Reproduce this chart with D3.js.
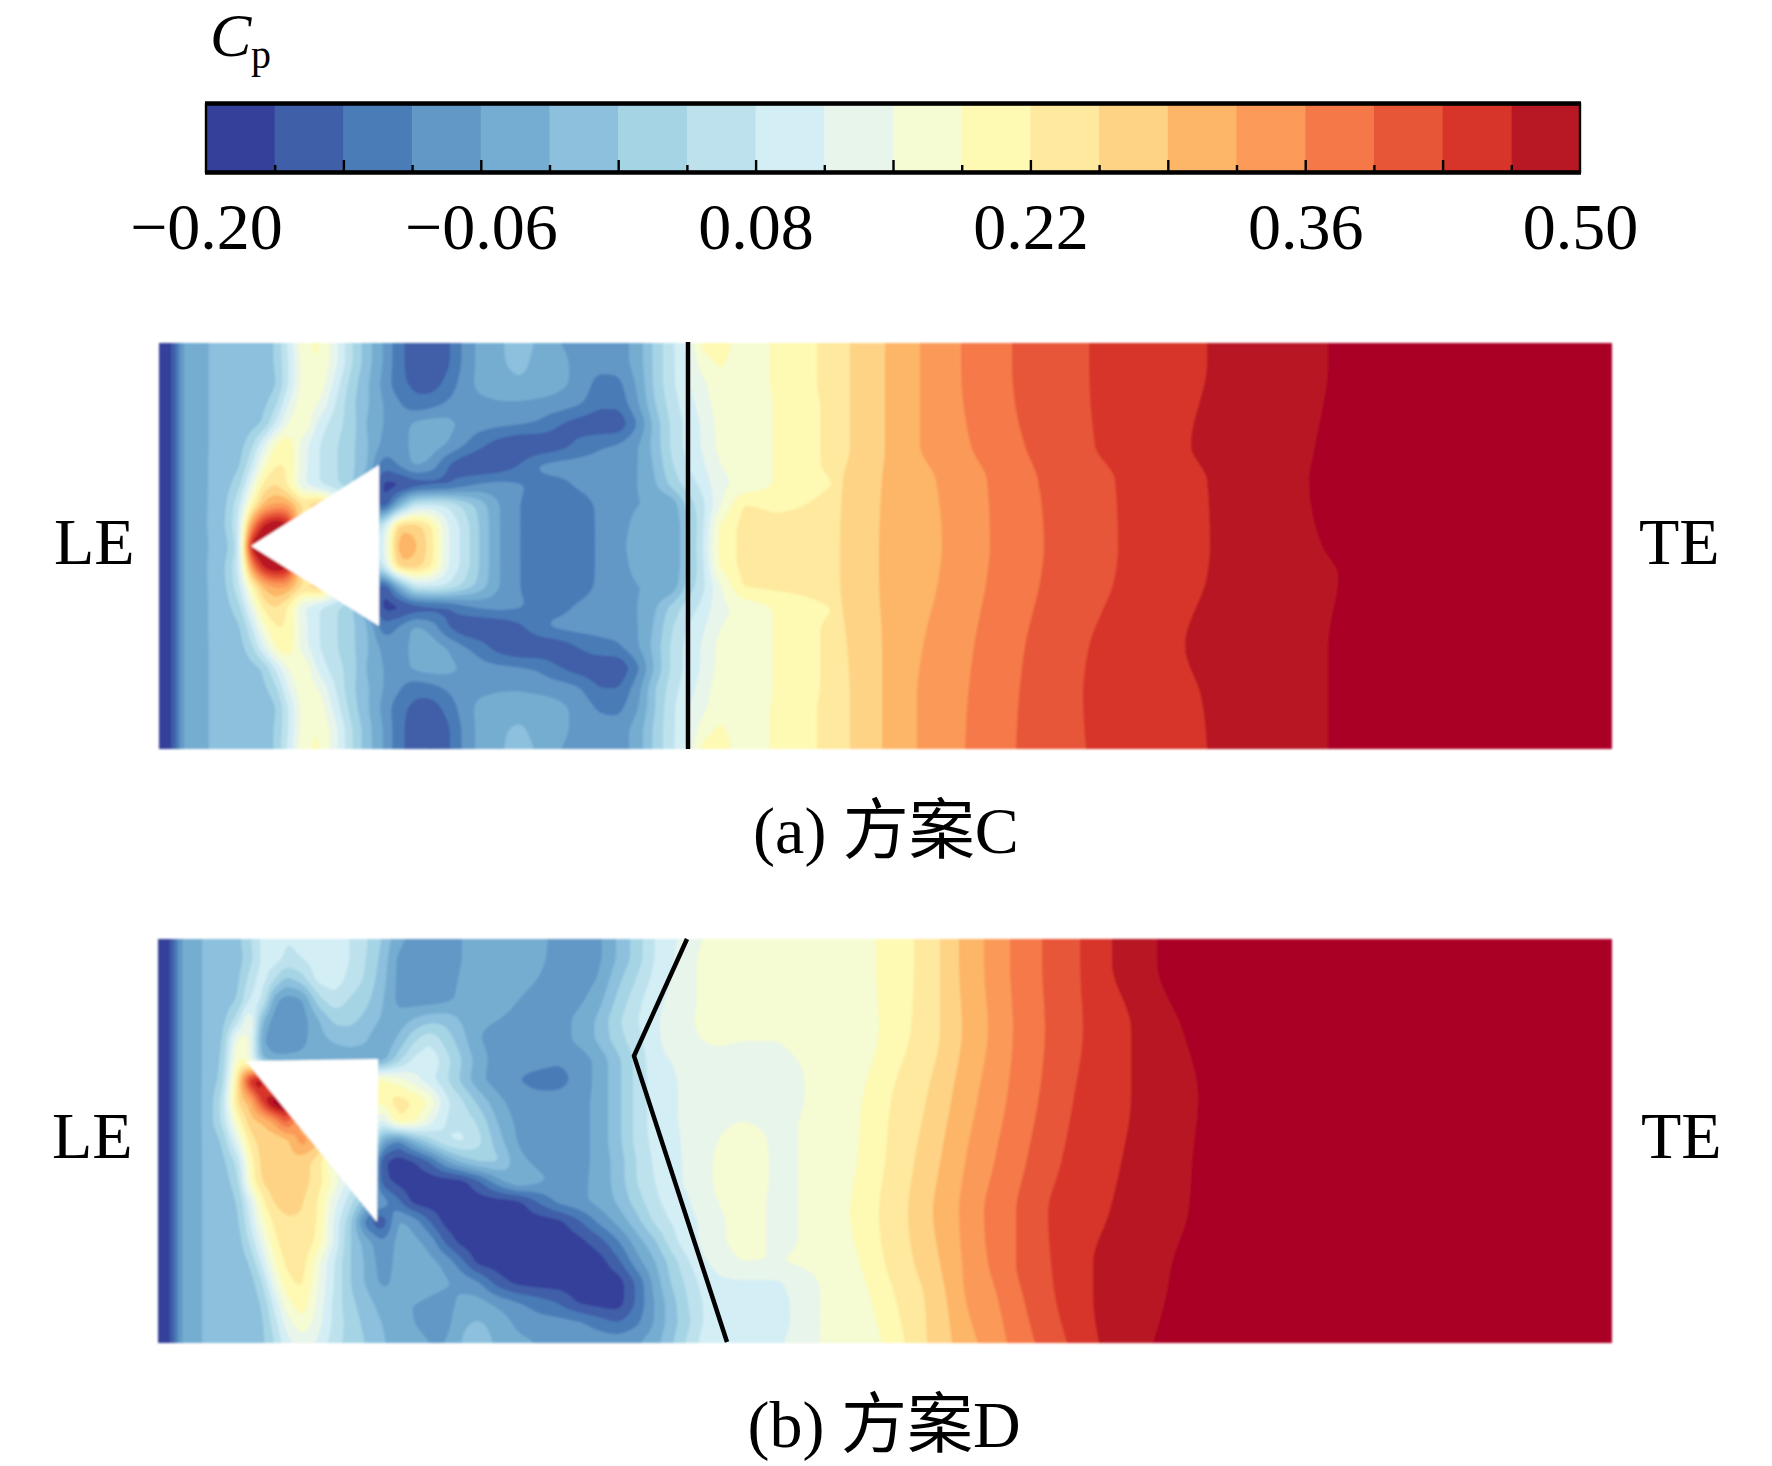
<!DOCTYPE html>
<html lang="en">
<head>
<meta charset="UTF-8">
<script src="https://cdnjs.cloudflare.com/ajax/libs/d3/7.8.5/d3.min.js"></script>
<style>
body { margin: 0; background: #fff; }
text { font-family: "Liberation Serif", "Noto Sans CJK SC", serif; fill: #000; }
</style>
</head>
<body>
<svg id="fig" width="1772" height="1466" viewBox="0 0 1772 1466"></svg>
<script>
// colour bar
const cpLevels = [-16.5,-13,-9.5,-6,-2.5,1,4.5,8,11.5,15,18.5,22,25.5,29,32.5,36,39.5,43,46.5,50]; // Cp x 100
const barEdges = [-0.2,-0.165,-0.13,-0.095,-0.06,-0.025,0.01,0.045,0.08,0.115,0.15,0.185,0.22,0.255,0.29,0.325,0.36,0.395,0.43,0.465,0.5];
const bandColors = ['#35409a','#3f5fa8','#4a7cb7','#6298c6','#74add1','#8dc0dd','#a5d4e5','#bee2ed','#d4eef5','#e8f5ea','#f5fbd2','#fef9b3','#fee99e','#fed385','#fdb568','#fb9a59','#f57948','#e75637','#d73529','#b71823','#aa0426'];
const majorTicks = [-0.13,-0.06,0.01,0.08,0.15,0.22,0.29,0.36,0.43];
const minorTicks = [-0.165,-0.095,-0.025,0.045,0.115,0.185,0.255,0.325,0.395,0.465];
const labelTicks = [-0.2,-0.06,0.08,0.22,0.36,0.5];

// left part of both fields: Cp x 100 at chord / span stations
const chordStations = [0,12,18,24,48,64,80,92,104,116,128,144,160,176,192,208,224,240,256,272,288,304,320,340,360,380,400,420,440,460,480,496,512,528,544,560,584,620,660,760];
const spanA = [0,20,41,61,81,102,122,142,162,183,203,223,243,264,284,304,325,345,365,386,406];
const spanB = [0,20,40,61,81,101,121,141,162,182,202,222,242,263,283,303,323,343,364,384,404];

const cpGridA = [
[-19,-18,-12,-5,-2.6,-1.5,-1.2,-1,-1,1,8,18,19,13,5,-1,-6,-12,-15,-16,-14,-9,-5,-3,-1,-3,-6,-7,-8,-8,-4,2,7,12,20,20,17,19,22.2,25],
[-19,-18,-12,-5,-2.6,-1.5,-1.2,-1,-1,1,7,17,19,13,5,-1,-6,-12,-15,-16,-14,-9,-5,-3,-1.5,-3.5,-5,-7,-8,-8,-4,2,7,11,17,19,17,19,22.2,25],
[-19,-18,-12,-5,-2.6,-1.5,-1.2,-1,-1,0,7,17,18,10,3,-2,-7,-12,-14,-15,-12,-8,-5,-3.5,-3,-3.5,-5,-7,-11,-10.5,-5,2,7,11,14,18,17,19,22.2,25],
[-19,-18,-12,-5,-2.6,-1.5,-1.2,-1,0,3,11,18,15,8,2,-2,-6,-9,-12,-11,-9,-7.5,-7,-6.5,-6.5,-7,-7.5,-9,-12,-12,-6,1,6,10,13,17,16,19,22,25],
[-19,-18,-12,-5,-2.6,-1.5,-1.2,-0.5,1,8,15,19,10,6,3,-3,-6,-8,-5,-4,-4.5,-7,-8,-8.5,-9,-10,-13,-15,-16,-16,-9,-1,5,9,12,16,16,19,22,25],
[-19,-18,-12,-5,-2.6,-1.5,-0.5,3,11,19,22,13,8,5,2,-2,-7,-8,-4.5,-4,-6,-9,-12,-15,-17,-16.5,-15,-12,-10,-9,-6,-1,5,9,12,16,16,19,22,25],
[-19,-18,-12,-5,-2.6,-1,0,7,17,22,22,13,8,5,2,-2,-12,-9,-5,-7,-13,-16,-17,-16,-13,-9,-8,-8,-8,-8,-6,-2,4,8,11,15,16,19,22,25],
[-19,-18,-12,-5,-2.6,-1,3,13,23,26,22,12,8,5,2,-5,-18,-18,-16,-15,-14,-11,-9,-8,-9,-10.5,-10.5,-9,-8,-7,-6,-3,2,6,9,14,16,19,21.5,25],
[-19,-18,-12,-5,-2.6,-0.5,7,20,30,33,33,25,30,20,10,0,-18,-4,8,9,8,4,0,-6,-9.5,-11,-11,-11,-9,-7.5,-6,-6,-6,2,7,14,22.5,21,22.5,25],
[-19,-18,-12,-5,-2.6,0,8,35,48,52,50,20,15,10,5,0,8,28,28,23,12,7,1,-6,-9.5,-11,-11.5,-11.5,-9,-7.5,-4.5,-4,-6,0,7,19,23,23.5,24,25],
[-19,-18,-12,-5,-2.6,-1.5,6,50,55,40,20,15,10,10,10,10,10,32,30,24,12,7,1,-6,-9.5,-11,-12,-11.5,-9,-7,-4,-4,-6,0,8,19.5,23,23.5,24,25],
[-19,-18,-12,-5,-2.6,0,8,35,48,52,50,20,15,10,5,0,8,28,28,23,12,7,1,-6,-9.5,-11,-11.5,-11.5,-9,-7.5,-4.5,-4,-6,0,7,19,23,23.5,24,25],
[-19,-18,-12,-5,-2.6,-0.5,7,20,30,33,33,25,30,20,10,0,-18,-4,8,9,8,4,0,-6,-9.5,-11,-11,-11,-9,-7.5,-6,-6,-6,2,7,14,22.5,23,23.5,25],
[-19,-18,-12,-5,-2.6,-1,3,13,23,26,22,12,8,5,2,-5,-18,-18,-16,-15,-14,-11,-9,-8,-9,-10.5,-10.5,-9,-8,-7,-6,-3,2,6,9,14,16,19,21.5,25],
[-19,-18,-12,-5,-2.6,-1,0,7,17,22,22,13,8,5,2,-2,-12,-9,-5,-7,-13,-16,-17,-16.5,-14,-10,-8.5,-8,-8,-8,-6,-2,4,8,11,15,16,19,22,25],
[-19,-18,-12,-5,-2.6,-1.5,-0.5,3,11,19,22,13,8,5,2,-2,-7,-8,-4.5,-4,-6,-9,-11,-15,-17,-16.5,-15.5,-13,-11,-10,-6,-1,5,9,12,16,16,19,22,25],
[-19,-18,-12,-5,-2.6,-1.5,-1.2,-0.5,1,8,15,19,10,6,3,-3,-6,-8,-5,-4,-4.5,-6.5,-8,-8.5,-9,-10,-13,-15,-16,-16.5,-10,-2,5,9,12,16,16,19,22,25],
[-19,-18,-12,-5,-2.6,-1.5,-1.2,-1,0,3,11,18,15,8,2,-2,-6,-9,-12,-11,-9,-7.5,-7,-6.5,-6.5,-7,-7.5,-9,-13,-13,-7,1,6,10,13,17,16,19,22,25],
[-19,-18,-12,-5,-2.6,-1.5,-1.2,-1,-1,0,7,17,18,10,3,-2,-7,-12,-14,-15,-12,-8,-5,-4,-3.5,-4,-5,-7,-10,-10.5,-6,1,7,11,14,18,17,19,22.2,25],
[-19,-18,-12,-5,-2.6,-1.5,-1.2,-1,-1,1,7,17,19,13,5,-1,-6,-12,-15,-16.5,-14,-9,-5,-3,-2,-3.5,-5,-7,-8,-8,-4,2,7,11,17,19,17,19,22.2,25],
[-19,-18,-12,-5,-2.6,-1.5,-1.2,-1,-1,1,8,18,19,13,5,-1,-6,-12,-15,-17,-14,-9,-5,-3,-1,-3,-6,-7,-8,-8,-4,2,7,12,20,20,17,19,22.2,25]
];

const cpGridB = [
[-19,-18,-11,-5,-2,-1,0,4,9,11,8,9,10,10,8,5,1,-5,-7,-8,-8,-6,-4,-4,-4,-5,-7,-7.5,-7,-2,3,8,11,12,15,17,17,17,17,18],
[-19,-18,-11,-5,-2,-1,-0.5,3,9,10,7,8,10,10.5,8,4.5,0,-7,-7.5,-8,-8,-6,-4,-4,-4,-5,-7.5,-8,-7,-2,3,8,11,13,16,17,17,17,17,18],
[-19,-18,-11,-5,-2,-1,0,6,10,5,0,3,9.5,10,7,4,-1,-7,-8,-8,-7.5,-5.5,-4,-4,-5,-6,-8,-8,-6,0,5,9,11.5,13,16,17,17,17,17,18],
[-19,-18,-11,-5,-2,-1,1,9,9,-5,-8,-7,3,7,4,2,-2,-7,-8,-8,-7,-5,-4,-4.5,-6,-7,-8,-7,-4,2,7,10.5,12,13,16,17,17,17,17,18],
[-19,-18,-11,-5,-2,-0.5,6,17,-2,-8,-9,-8,-3,2,2,0,-3,-5,-2,0,0,-3,-5.5,-6,-7,-7.5,-8,-5,-2,4,8,11,12.5,14,16,17,17,17,17,18],
[-19,-18,-11,-5,-2,0,17,16,-6,-8.5,-8.5,-7,-4,-2,-1,-2,-6,-2,4,7.5,3,-1,-6,-7,-8,-8,-8,-5,-2,3,7,10.5,13,14,15,15.5,15,15,17,18],
[-19,-18,-11,-5,-2,1,20,15,-3,-5,-5,-5,-5,-5,-5,-5,-5,3,9,11,6,1,-4,-8,-8.5,-8.5,-9,-8.5,-5,0,6,10,11.5,12.5,14,14,14,14,16,18],
[-19,-18,-11,-5,-2,2,25,48,52,20,20,20,20,20,20,20,20,17,13,9,5,0,-5,-8,-9.5,-10.5,-11,-8.5,-5,0,6,9.5,11,12,13,13,13,13,16,18],
[-19,-18,-11,-5,-2,5,27,30,44,55,55,30,20,20,20,20,20,24,22,18,9,5,0,-5,-8,-8.5,-8,-7.5,-5,0,6,9.5,11,12,13,13,13,13,16,18],
[-19,-18,-11,-5,-2,5,20,28,29,33,42,30,20,20,20,20,10,22,20,13,7.5,7,4,-3,-7,-8,-7.5,-7.5,-5,0,6,9.5,11,12,13,14,15,14,16,18],
[-19,-18,-11,-5,-2,1,13,24,27,26,27,35,30,20,20,20,-5,-11,-3,3,8,9,6,-1,-6.5,-8,-7.5,-7.5,-5,0,6,9,10.5,12,13,15,17.5,14,16,18],
[-19,-18,-11,-5,-2,-0.5,6,20,27,29,28,27,24,14,10,10,-16,-18.5,-17,-13,-6,-1,2,2,-5,-7,-7.5,-7.5,-5,-1,5,8.5,10,12,13,16,18,14,16,18],
[-19,-18,-11,-5,-2,-1,3,19,26,28,28,27,24,17,10,5,-15,-18,-18.5,-18.5,-18.5,-18,-14,-7,-2,-5,-7,-7,-5,-1,5,8,10,12,13,16,18,14,16,18],
[-19,-18,-11,-5,-2,-1.5,1,10,21,26,27,26,22,13,6,-2,-7,-12,-18,-18.5,-18.5,-18.5,-18.5,-18.5,-18,-13,-8.5,-7,-5,-2,3,7,9.5,11,13,15,17,14,16,18],
[-19,-18,-11,-5,-2,-1.5,0,8,17,23,25,25,22,11,2,-12,-17,-5,-7,-13,-18,-18.5,-18.5,-18.5,-18.5,-18.5,-18,-14,-9,-5,0,5,8,10,12,14,17,14,16,18],
[-19,-18,-11,-5,-2,-1.5,-1,5,13,21,24,25,21,11,1,-4,-9,-5,-5,-7,-14,-18,-18.5,-18.5,-18.5,-18.5,-18.5,-18,-15,-10,-4,0,6,10,12,14,17,14,16,18],
[-19,-18,-11,-5,-2,-1.5,-1,1,9,18,23,24,16,8,1,-3,-8,-5,-4.5,-5,-7,-12,-18,-18.5,-18.5,-18.5,-18.5,-18.5,-18.5,-14,-7,-3,2,7,11,12.5,15,15,16,18],
[-19,-18,-11,-5,-2,-1.5,-1,-1,4,14,21,23,15,8,1,-3,-7,-5,-2,-4,-5.5,-7,-9,-15,-18,-18.5,-18.5,-18.5,-18.5,-18.5,-12,-5,1,5,9,11,11,11,15,18],
[-19,-18,-11,-5,-2,-1.5,-1,-1,1,9,17,21,14,7,2,-1,-4,-6,-6,-7,-7.5,-5,-4.5,-7,-9,-11,-13,-17,-18,-18.5,-12,-6,-1,4,8,10,10,10,15,18],
[-19,-18,-11,-5,-2,-1.5,-1,-1,0,6,13,18,13,7,3,0,-2.5,-5,-6,-7,-7.5,-3,-2,-3.5,-7,-8,-8,-8.5,-11,-13,-10,-6,-1,3,8,10,10,10,15,18],
[-19,-18,-11,-5,-2,-1.5,-1,-1,0,4,10,13,11,6,3,1,-2,-4,-5,-6,-6,-2,-1,-3,-5,-6,-7,-7,-7,-7,-6,-4,0,5,9,11,11,11,15,18]
];

// right part: chord position of each iso-Cp line at a few span stations
const isoSpanA = [0,20,103,137,203,233,303,353,406];
const isoLevelsA = [25.5,29,32.5,36,39.5,43,46.5,50];
const isoChordA = [
[691,691,691,684,681,681,688,691,691],
[726,726,726,723,720,720,723,723,723],
[761,761,761,777,783,780,764,758,758],
[802,802,812,828,831,828,815,809,806],
[853,853,866,879,885,882,866,860,857],
[930,930,936,956,959,956,930,924,927],
[1048,1048,1032,1048,1051,1048,1026,1042,1048],
[1169,1169,1156,1150,1163,1179,1169,1169,1169]
];
const isoSpanB = [0,24,90,157,224,274,324,357,404];
const isoLevelsB = [18.5,22,25.5,29,32.5,36,39.5,43,46.5,50];
const isoChordB = [
[718,718,721,705,699,692,702,712,724],
[756,756,753,734,727,721,727,737,747],
[782,782,782,769,756,750,756,766,769],
[801,801,804,794,782,775,782,788,794],
[826,826,830,820,807,801,804,807,820],
[852,852,855,849,836,826,830,839,849],
[884,884,887,881,868,858,858,865,877],
[922,922,925,916,903,890,893,897,909],
[954,954,973,973,963,951,935,935,941],
[999,999,1024,1040,1034,1030,1014,1008,995]
];

// body and shock line, [chord, span]
const wedgeA = [[92,203],[220,122],[220,283]];
const wedgeB = [[88,122],[220,120],[219,283]];
const shockA = [[529,-1],[529,406]];
const shockB = [[529,0],[476,117],[569,403]];

const svg = d3.select('#fig');
const defs = svg.append('defs');
defs.append('filter').attr('id', 'soft')
    .attr('x', -0.02).attr('y', -0.02).attr('width', 1.04).attr('height', 1.04)
    .append('feGaussianBlur').attr('stdDeviation', 1.1);

// colour bar
const barScale = d3.scaleLinear().domain([-0.2, 0.5]).range([206, 1580]);
const barTop = 104, barBottom = 172;
const bar = svg.append('g');
bar.selectAll('rect').data(d3.pairs(barEdges)).enter().append('rect')
    .attr('x', d => barScale(d[0]))
    .attr('y', barTop)
    .attr('width', d => barScale(d[1]) - barScale(d[0]) + 0.5)
    .attr('height', barBottom - barTop)
    .attr('fill', (d, i) => bandColors[i]);

const minorAxis = d3.axisBottom(barScale).tickValues(minorTicks).tickSize(-7).tickFormat('');
const majorAxis = d3.axisBottom(barScale).tickValues(majorTicks).tickSize(-12).tickFormat('');
[minorAxis, majorAxis].forEach(a => {
    const g = bar.append('g').attr('transform', `translate(0,${barBottom})`).call(a);
    g.select('.domain').remove();
    g.selectAll('line').attr('stroke', '#000').attr('stroke-width', 2.4);
});
bar.append('rect').attr('x', barScale(-0.2)).attr('y', barTop)
    .attr('width', barScale(0.5) - barScale(-0.2)).attr('height', barBottom - barTop)
    .attr('fill', 'none').attr('stroke', '#000').attr('stroke-width', 2.4);
[barTop - 0.5, barBottom + 0.5].forEach(y => {
    bar.append('line').attr('x1', barScale(-0.2) - 1).attr('x2', barScale(0.5) + 1)
        .attr('y1', y).attr('y2', y).attr('stroke', '#000').attr('stroke-width', 4.4);
});
const labelAxis = d3.axisBottom(barScale).tickValues(labelTicks).tickSize(0).tickFormat(d3.format('.2f'));
const labelG = svg.append('g').attr('transform', 'translate(0,249)').call(labelAxis);
labelG.select('.domain').remove();
labelG.selectAll('text').attr('y', 0).attr('dy', 0)
    .attr('font-size', 66).attr('font-family', '"Liberation Serif", serif').attr('fill', '#000');

svg.append('text').attr('x', 210).attr('y', 56).attr('font-size', 62).attr('font-style', 'italic').text('C');
svg.append('text').attr('x', 251).attr('y', 68).attr('font-size', 40).text('p');

function drawPanel(p) {
    const x = d3.scaleLinear().domain([0, p.chord]).range([p.left, p.right]);
    const y = d3.scaleLinear().domain([0, p.span[p.span.length - 1]]).range([p.top, p.bottom]);
    const chordEnd = chordStations[chordStations.length - 1];
    const spanEnd = y.domain()[1];

    // sample the coarse table on a fine regular grid for d3.contours
    const w = 520, h = 280;
    const fine = new Float64Array(w * h);
    const ix = d3.scaleLinear().domain(chordStations).range(d3.range(chordStations.length));
    const iy = d3.scaleLinear().domain(p.span).range(d3.range(p.span.length));
    p.grid.forEach((r, i) => { if (r.length !== chordStations.length) throw new Error(p.id + ' row ' + i + ' has ' + r.length); });
    for (let j = 0; j < h; j++) {
        const fy = iy((j + 0.5) / h * spanEnd);
        const j0 = Math.min(Math.floor(fy), p.span.length - 2);
        const ty = fy - j0;
        for (let i = 0; i < w; i++) {
            const fx = ix((i + 0.5) / w * chordEnd);
            const i0 = Math.min(Math.floor(fx), chordStations.length - 2);
            const tx = fx - i0;
            const a = p.grid[j0][i0] * (1 - tx) + p.grid[j0][i0 + 1] * tx;
            const b = p.grid[j0 + 1][i0] * (1 - tx) + p.grid[j0 + 1][i0 + 1] * tx;
            fine[j * w + i] = a * (1 - ty) + b * ty;
        }
    }
    d3.blur2({data: fine, width: w, height: h}, 2);

    defs.append('clipPath').attr('id', 'clip' + p.id).append('rect')
        .attr('x', p.left).attr('y', p.top)
        .attr('width', p.right - p.left).attr('height', p.bottom - p.top);
    const soft = svg.append('g').attr('filter', 'url(#soft)');
    const field = soft.append('g').attr('clip-path', `url(#clip${p.id})`);

    field.append('rect').attr('x', p.left).attr('y', p.top)
        .attr('width', p.right - p.left).attr('height', p.bottom - p.top)
        .attr('fill', bandColors[0]);

    const contours = d3.contours().size([w, h]).thresholds(cpLevels)(fine);
    const sx = (x(chordEnd) - x(0)) / w, sy = (y(spanEnd) - y(0)) / h;
    field.append('g').attr('transform', `translate(${x(0)},${y(0)}) scale(${sx},${sy})`)
        .selectAll('path').data(contours).enter().append('path')
        .attr('d', d3.geoPath())
        .attr('fill', (d, i) => bandColors[i + 1]);

    // iso lines of the smooth rear part, each area fills to the trailing edge
    const area = d3.area().curve(d3.curveMonotoneY)
        .y((d, i) => y(p.isoSpan[i]))
        .x0(d => x(d))
        .x1(x(p.chord));
    p.isoChord.forEach((row, k) => {
        field.append('path').attr('d', area(row))
            .attr('fill', bandColors[cpLevels.indexOf(p.isoLevels[k]) + 1]);
    });

    // wedge stays inside the soft group so its edge is a little blurred too
    const line = d3.line().x(d => x(d[0])).y(d => y(d[1]));
    soft.append('path').attr('d', line(p.wedge) + 'Z').attr('fill', '#fff');
    svg.append('path').attr('d', line(p.shock)).attr('fill', 'none')
        .attr('stroke', '#000').attr('stroke-width', 4.5);

    svg.append('text').attr('x', p.leX).attr('y', p.labelY).attr('font-size', 66).text('LE');
    svg.append('text').attr('x', p.teX).attr('y', p.labelY).attr('font-size', 66).text('TE');
    svg.append('text').attr('x', p.capX).attr('y', p.capY).attr('text-anchor', 'middle')
        .attr('font-size', 66).text(p.caption);
}

drawPanel({id: 'A', left: 159, right: 1612, top: 343, bottom: 749, chord: 1453,
    span: spanA, grid: cpGridA, isoSpan: isoSpanA, isoLevels: isoLevelsA, isoChord: isoChordA,
    wedge: wedgeA, shock: shockA, leX: 54, teX: 1639, labelY: 564, capX: 886, capY: 853, caption: '(a) 方案C'});
drawPanel({id: 'B', left: 158, right: 1612, top: 939, bottom: 1343, chord: 1454,
    span: spanB, grid: cpGridB, isoSpan: isoSpanB, isoLevels: isoLevelsB, isoChord: isoChordB,
    wedge: wedgeB, shock: shockB, leX: 52, teX: 1641, labelY: 1158, capX: 884, capY: 1447, caption: '(b) 方案D'});
</script>
</body>
</html>
